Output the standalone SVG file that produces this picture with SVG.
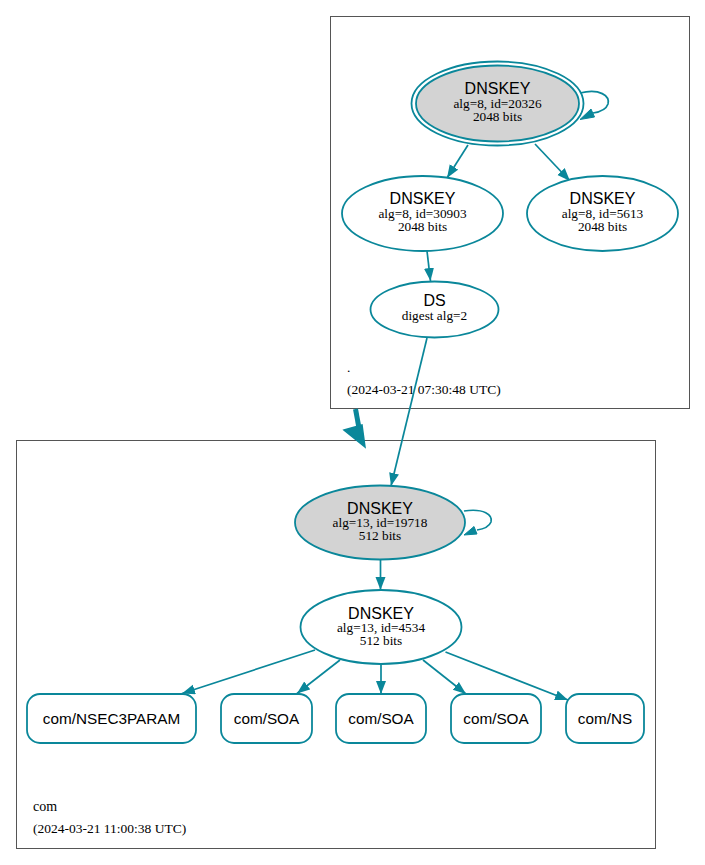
<svg xmlns="http://www.w3.org/2000/svg" width="705" height="865" viewBox="0 0 705 865">
<style>
.cl{fill:#ffffff;stroke:#555555;stroke-width:1}
.nd{fill:#ffffff;stroke:#0a879a;stroke-width:1.8}
.ksk{fill:#d3d3d3;stroke:#0a879a;stroke-width:1.8}
.ed{fill:none;stroke:#0a879a;stroke-width:1.7}
.ah{fill:#0a879a;stroke:#0a879a;stroke-width:1}
.t1{font-family:"Liberation Sans",Arial,sans-serif;font-size:16px;fill:#000;text-anchor:middle}
.t2{font-family:"Liberation Serif","Times New Roman",serif;font-size:13.3px;fill:#000;text-anchor:middle}
.t3{font-family:"Liberation Sans",Arial,sans-serif;font-size:15.3px;fill:#000;text-anchor:middle}
.lb{font-family:"Liberation Serif","Times New Roman",serif;font-size:13.5px;fill:#000}
</style>
<defs>
<marker id="arr" markerUnits="userSpaceOnUse" markerWidth="14" markerHeight="11" refX="13" refY="5" orient="auto">
<path d="M0,0 L13,5 L0,10 z" fill="#0a879a"/>
</marker>
</defs>
<rect width="705" height="865" fill="#ffffff"/>
<g id="cluster-root">
<rect class="cl" x="330.5" y="16.5" width="359" height="392"/>
<text class="lb" x="347" y="372">.</text>
<text class="lb" x="347" y="394">(2024-03-21 07:30:48 UTC)</text>
</g>
<g id="cluster-com">
<rect class="cl" x="16.5" y="440.5" width="639" height="408"/>
<text class="lb" x="33" y="811" style="font-size:14px">com</text>
<text class="lb" x="33" y="833">(2024-03-21 11:00:38 UTC)</text>
</g>
<g id="connectors">
<path class="ed" d="M580,93 C600,88 610,96 608,104 C606,110 600,112 593,113"/>
<polygon class="ah" points="591,109 594.5,117 580,119.5"/>
<path class="ed" d="M468,145 L447,178" marker-end="url(#arr)"/>
<path class="ed" d="M535,144 L570,181" marker-end="url(#arr)"/>
<path class="ed" d="M427,251 L430.5,281" marker-end="url(#arr)"/>
<path class="ed" d="M427,338 L391,486" marker-end="url(#arr)"/>
<path d="M355.5,409 L359,428" fill="none" stroke="#0a879a" stroke-width="5"/>
<polygon points="344,430 362,425 365,447" fill="#0a879a" stroke="#0a879a" stroke-width="1.5"/>
<path class="ed" d="M464,511 C484,508 493,515 491,522 C489,527 484,529 477,530"/>
<polygon class="ah" points="474,526.5 477,534 464,535"/>
<path class="ed" d="M380.5,560 L380.5,590" marker-end="url(#arr)"/>
<path class="ed" d="M315,650 L182,693.5" marker-end="url(#arr)"/>
<path class="ed" d="M340,660 L297,693.5" marker-end="url(#arr)"/>
<path class="ed" d="M381,665 L381,694" marker-end="url(#arr)"/>
<path class="ed" d="M423,660 L466,694" marker-end="url(#arr)"/>
<path class="ed" d="M445.5,652 L568,700" marker-end="url(#arr)"/>
</g>
<g id="dnskey-20326">
<ellipse class="nd" cx="497.5" cy="103.5" rx="86" ry="42"/>
<ellipse class="ksk" cx="497.5" cy="103.5" rx="81.5" ry="38"/>
<text class="t1" x="497.5" y="94">DNSKEY</text>
<text class="t2" x="497.5" y="107.5">alg=8, id=20326</text>
<text class="t2" x="497.5" y="120.5">2048 bits</text>
</g>
<g id="dnskey-30903">
<ellipse class="nd" cx="422.5" cy="213.5" rx="80.5" ry="37.5"/>
<text class="t1" x="422.5" y="204">DNSKEY</text>
<text class="t2" x="422.5" y="217.5">alg=8, id=30903</text>
<text class="t2" x="422.5" y="230.5">2048 bits</text>
</g>
<g id="dnskey-5613">
<ellipse class="nd" cx="602.5" cy="213.5" rx="75.5" ry="37.5"/>
<text class="t1" x="602.5" y="204">DNSKEY</text>
<text class="t2" x="602.5" y="217.5">alg=8, id=5613</text>
<text class="t2" x="602.5" y="230.5">2048 bits</text>
</g>
<g id="ds">
<ellipse class="nd" cx="434.5" cy="309.5" rx="64" ry="28"/>
<text class="t1" x="434.5" y="306">DS</text>
<text class="t2" x="434.5" y="320">digest alg=2</text>
</g>
<g id="dnskey-19718">
<ellipse class="ksk" cx="380" cy="522.5" rx="85" ry="37"/>
<text class="t1" x="380" y="513.5">DNSKEY</text>
<text class="t2" x="380" y="527">alg=13, id=19718</text>
<text class="t2" x="380" y="540">512 bits</text>
</g>
<g id="dnskey-4534">
<ellipse class="nd" cx="381" cy="627" rx="80.5" ry="37"/>
<text class="t1" x="381" y="618.5">DNSKEY</text>
<text class="t2" x="381" y="631.5">alg=13, id=4534</text>
<text class="t2" x="381" y="644.5">512 bits</text>
</g>
<g id="rr-nsec3param">
<rect class="nd" x="27" y="694" width="169" height="49" rx="13"/>
<text class="t3" x="111.5" y="724">com/NSEC3PARAM</text>
</g>
<g id="rr-soa-1">
<rect class="nd" x="221" y="694" width="91" height="49" rx="13"/>
<text class="t3" x="266.5" y="724">com/SOA</text>
</g>
<g id="rr-soa-2">
<rect class="nd" x="336" y="694" width="90" height="49" rx="13"/>
<text class="t3" x="381" y="724">com/SOA</text>
</g>
<g id="rr-soa-3">
<rect class="nd" x="451" y="694" width="90" height="49" rx="13"/>
<text class="t3" x="496" y="724">com/SOA</text>
</g>
<g id="rr-ns">
<rect class="nd" x="566" y="694" width="78" height="49" rx="13"/>
<text class="t3" x="605" y="724">com/NS</text>
</g>
</svg>
